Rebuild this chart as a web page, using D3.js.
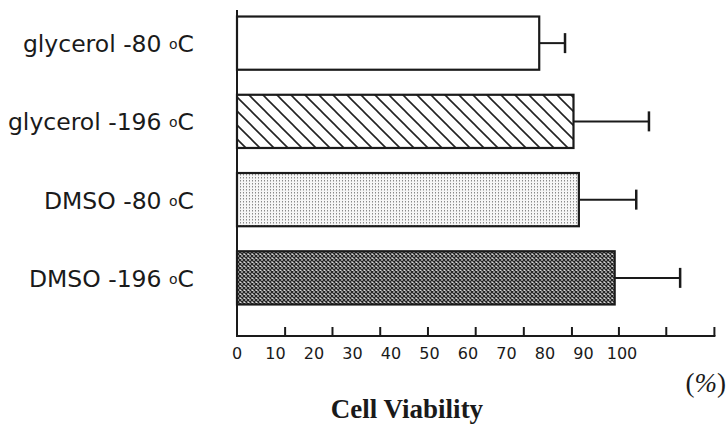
<!DOCTYPE html>
<html>
<head>
<meta charset="utf-8">
<script src="https://cdn.jsdelivr.net/npm/d3@7"></script>
<style>
  html, body { margin: 0; padding: 0; background: #fff; }
  svg { display: block; }
</style>
</head>
<body>
<svg id="chart" width="727" height="425"></svg>
<script>
// Cryopreservation conditions and measured cell viability (%)
const conditions = ["glycerol -80", "glycerol -196", "DMSO -80", "DMSO -196"];
const viability = [78.5, 87.4, 88.8, 98.1];
const errors = [6.7, 19.6, 14.9, 17.0];
const fills = ["white", "url(#hatch)", "url(#dots)", "url(#cross)"];
const tickLabels = [0, 10, 20, 30, 40, 50, 60, 70, 80, 90, 100];
const tickMarks = [12.5, 24.8, 37.2, 49.6, 62, 74.5, 87, 99.2, 111.5, 124];

const svg = d3.select("#chart");
const x0 = 237, axisY = 336;

const x = d3.scaleLinear().domain([0, 100]).range([x0, 622]);
const y = d3.scaleBand().domain(conditions).range([4, 317])
  .paddingInner(0.32).paddingOuter(0.16);

// fill patterns
const defs = svg.append("defs");
const hatch = defs.append("pattern").attr("id", "hatch")
  .attr("patternUnits", "userSpaceOnUse").attr("width", 14).attr("height", 14);
hatch.append("rect").attr("width", 14).attr("height", 14).attr("fill", "#fff");
hatch.append("path").attr("d", "M0,0L14,14M-7,7L7,21M7,-7L21,7")
  .attr("stroke", "#222").attr("stroke-width", 1.6);

const dots = defs.append("pattern").attr("id", "dots")
  .attr("patternUnits", "userSpaceOnUse").attr("width", 3).attr("height", 3);
dots.append("rect").attr("width", 3).attr("height", 3).attr("fill", "#f6f6f6");
dots.append("rect").attr("width", 1).attr("height", 1.5).attr("fill", "#8a8a8a");

const cross = defs.append("pattern").attr("id", "cross")
  .attr("patternUnits", "userSpaceOnUse").attr("width", 4).attr("height", 4);
cross.append("rect").attr("width", 4).attr("height", 4).attr("fill", "#d8d8d8");
cross.append("path").attr("d", "M0,0L4,4M4,0L0,4")
  .attr("stroke", "#262626").attr("stroke-width", 1.3);

// bars
svg.append("g").selectAll("rect").data(conditions).join("rect")
  .attr("x", x(0))
  .attr("y", d => y(d))
  .attr("width", (d, i) => x(viability[i]) - x(0))
  .attr("height", y.bandwidth())
  .attr("fill", (d, i) => fills[i])
  .attr("stroke", "#1a1a1a").attr("stroke-width", 2.2);

// error bars (positive side only)
const eb = svg.append("g").attr("stroke", "#1a1a1a");
eb.selectAll("line.stem").data(conditions).join("line").attr("class", "stem")
  .attr("x1", (d, i) => x(viability[i]))
  .attr("x2", (d, i) => x(viability[i] + errors[i]))
  .attr("y1", d => y(d) + y.bandwidth() / 2)
  .attr("y2", d => y(d) + y.bandwidth() / 2)
  .attr("stroke-width", 2);
eb.selectAll("line.cap").data(conditions).join("line").attr("class", "cap")
  .attr("x1", (d, i) => x(viability[i] + errors[i]))
  .attr("x2", (d, i) => x(viability[i] + errors[i]))
  .attr("y1", d => y(d) + y.bandwidth() / 2 - 10)
  .attr("y2", d => y(d) + y.bandwidth() / 2 + 10)
  .attr("stroke-width", 2.5);

// axes
svg.append("line").attr("x1", x0).attr("x2", x0).attr("y1", 10).attr("y2", axisY)
  .attr("stroke", "#1a1a1a").attr("stroke-width", 2);
svg.append("line").attr("x1", x0 - 1).attr("x2", x(124) + 1).attr("y1", axisY).attr("y2", axisY)
  .attr("stroke", "#1a1a1a").attr("stroke-width", 2);
svg.append("g").selectAll("line").data(tickMarks).join("line")
  .attr("x1", d => x(d)).attr("x2", d => x(d))
  .attr("y1", axisY - 9).attr("y2", axisY)
  .attr("stroke", "#1a1a1a").attr("stroke-width", 2);

svg.append("g").selectAll("text").data(tickLabels).join("text")
  .attr("x", d => x(d)).attr("y", 359)
  .attr("text-anchor", "middle")
  .attr("font-family", "'DejaVu Sans', sans-serif")
  .attr("font-size", 16)
  .attr("fill", "#1a1a1a")
  .text(d => d);

// category labels
const lab = svg.append("g").selectAll("text").data(conditions).join("text")
  .attr("x", 194)
  .attr("y", d => y(d) + y.bandwidth() / 2 + 9)
  .attr("text-anchor", "end")
  .attr("font-family", "'DejaVu Sans', sans-serif")
  .attr("font-size", 23.5)
  .attr("fill", "#1a1a1a");
lab.append("tspan").text(d => d + " ");
lab.append("tspan").attr("font-size", 14).attr("dy", -3).text("o");
lab.append("tspan").attr("dy", 3).text("C");

// unit and axis title
svg.append("text").attr("x", 726).attr("y", 392).attr("text-anchor", "end")
  .attr("font-family", "'Liberation Serif', serif").attr("font-size", 27)
  .attr("fill", "#1a1a1a")
  .html("(<tspan font-style='italic'>%</tspan>)");
svg.append("text").attr("x", 407).attr("y", 418).attr("text-anchor", "middle")
  .attr("font-family", "'Liberation Serif', serif").attr("font-size", 27)
  .attr("font-weight", "bold").attr("fill", "#1a1a1a")
  .text("Cell Viability");
</script>
</body>
</html>
